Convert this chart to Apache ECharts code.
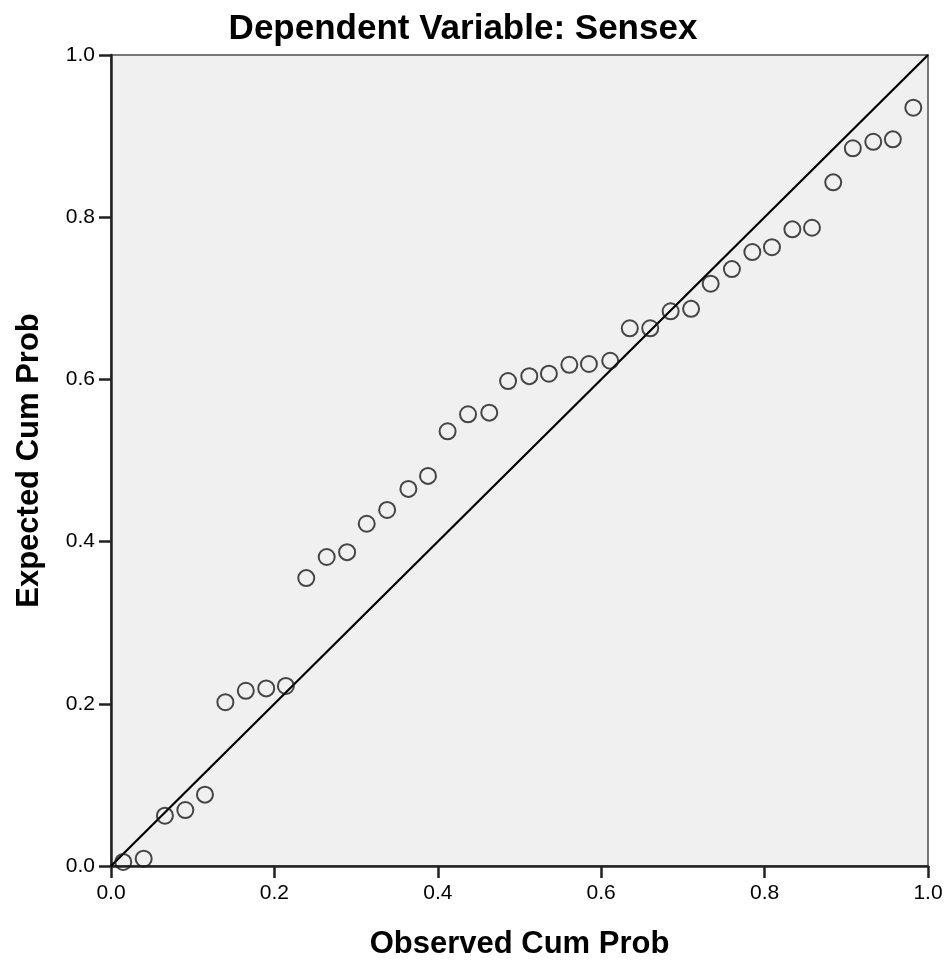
<!DOCTYPE html>
<html>
<head>
<meta charset="utf-8">
<title>P-P Plot</title>
<script src="https://cdn.jsdelivr.net/npm/echarts@6/dist/echarts.min.js"></script>
<style>
  html, body { margin: 0; padding: 0; background: #fff; }
  #chart { width: 946px; height: 961px; }
</style>
</head>
<body>
<div id="chart"></div>
<script>
// 观测累积概率 (x)
var observed = [0.015, 0.040, 0.066, 0.091, 0.115, 0.140, 0.165, 0.190, 0.214, 0.239,
                0.264, 0.289, 0.313, 0.338, 0.364, 0.388, 0.412, 0.437, 0.463, 0.486,
                0.512, 0.536, 0.561, 0.585, 0.611, 0.635, 0.660, 0.685, 0.710, 0.734,
                0.760, 0.785, 0.809, 0.834, 0.858, 0.884, 0.908, 0.933, 0.957, 0.982];
// 期望累积概率 (y)
var expected = [0.005, 0.009, 0.062, 0.069, 0.088, 0.202, 0.216, 0.219, 0.222, 0.355,
                0.381, 0.387, 0.422, 0.439, 0.465, 0.481, 0.536, 0.557, 0.559, 0.598,
                0.604, 0.607, 0.618, 0.619, 0.623, 0.663, 0.663, 0.684, 0.687, 0.718,
                0.736, 0.757, 0.763, 0.785, 0.787, 0.843, 0.885, 0.893, 0.896, 0.935];
// 参考线
var refLine = [[0, 0], [1, 1]];

var points = [];
for (var i = 0; i < observed.length; i++) {
    points.push([observed[i], expected[i]]);
}

var myChart = echarts.init(document.getElementById('chart'));

var font = 'Liberation Sans, Arial, sans-serif';

var option = {
    backgroundColor: '#ffffff',
    animation: false,
    title: {
        text: 'Dependent Variable: Sensex',
        left: 458,
        textAlign: 'center',
        top: 7,
        textStyle: { fontFamily: font, fontSize: 35, fontWeight: 'bold', color: '#000' }
    },
    grid: {
        left: 111, right: 18, top: 55, bottom: 95,
        outerBoundsMode: 'none',
        containLabel: false,
        show: true,
        backgroundColor: '#f0f0f0',
        borderColor: '#777',
        borderWidth: 2
    },
    xAxis: {
        type: 'value',
        min: 0, max: 1, interval: 0.2,
        name: 'Observed Cum Prob',
        nameLocation: 'middle',
        nameGap: 63,
        nameTextStyle: { fontFamily: font, fontSize: 31, fontWeight: 'bold', color: '#000' },
        axisLine: { show: true, lineStyle: { color: '#222', width: 2.5 } },
        axisTick: { show: true, length: 12, lineStyle: { color: '#222', width: 2.5 } },
        axisLabel: {
            fontFamily: font, fontSize: 21, color: '#000', margin: 17,
            formatter: function (v) { return v.toFixed(1); }
        },
        splitLine: { show: false }
    },
    yAxis: {
        type: 'value',
        min: 0, max: 1, interval: 0.2,
        name: 'Expected Cum Prob',
        nameLocation: 'middle',
        nameGap: 66,
        nameTextStyle: { fontFamily: font, fontSize: 31, fontWeight: 'bold', color: '#000' },
        axisLine: { show: true, lineStyle: { color: '#222', width: 2.5 } },
        axisTick: { show: true, length: 12, lineStyle: { color: '#222', width: 2.5 } },
        axisLabel: {
            fontFamily: font, fontSize: 21, color: '#000', margin: 16,
            padding: [8, 0, 0, 0],
            formatter: function (v) { return v.toFixed(1); }
        },
        splitLine: { show: false }
    },
    series: [
        {
            type: 'line',
            data: refLine,
            symbol: 'none',
            lineStyle: { color: '#000', width: 2.2 },
            z: 2
        },
        {
            type: 'scatter',
            data: points,
            symbol: 'circle',
            symbolSize: 16,
            itemStyle: { color: 'rgba(0,0,0,0)', borderColor: '#1a1a1a', borderWidth: 2 },
            z: 3
        }
    ]
};

myChart.setOption(option);
</script>
</body>
</html>
